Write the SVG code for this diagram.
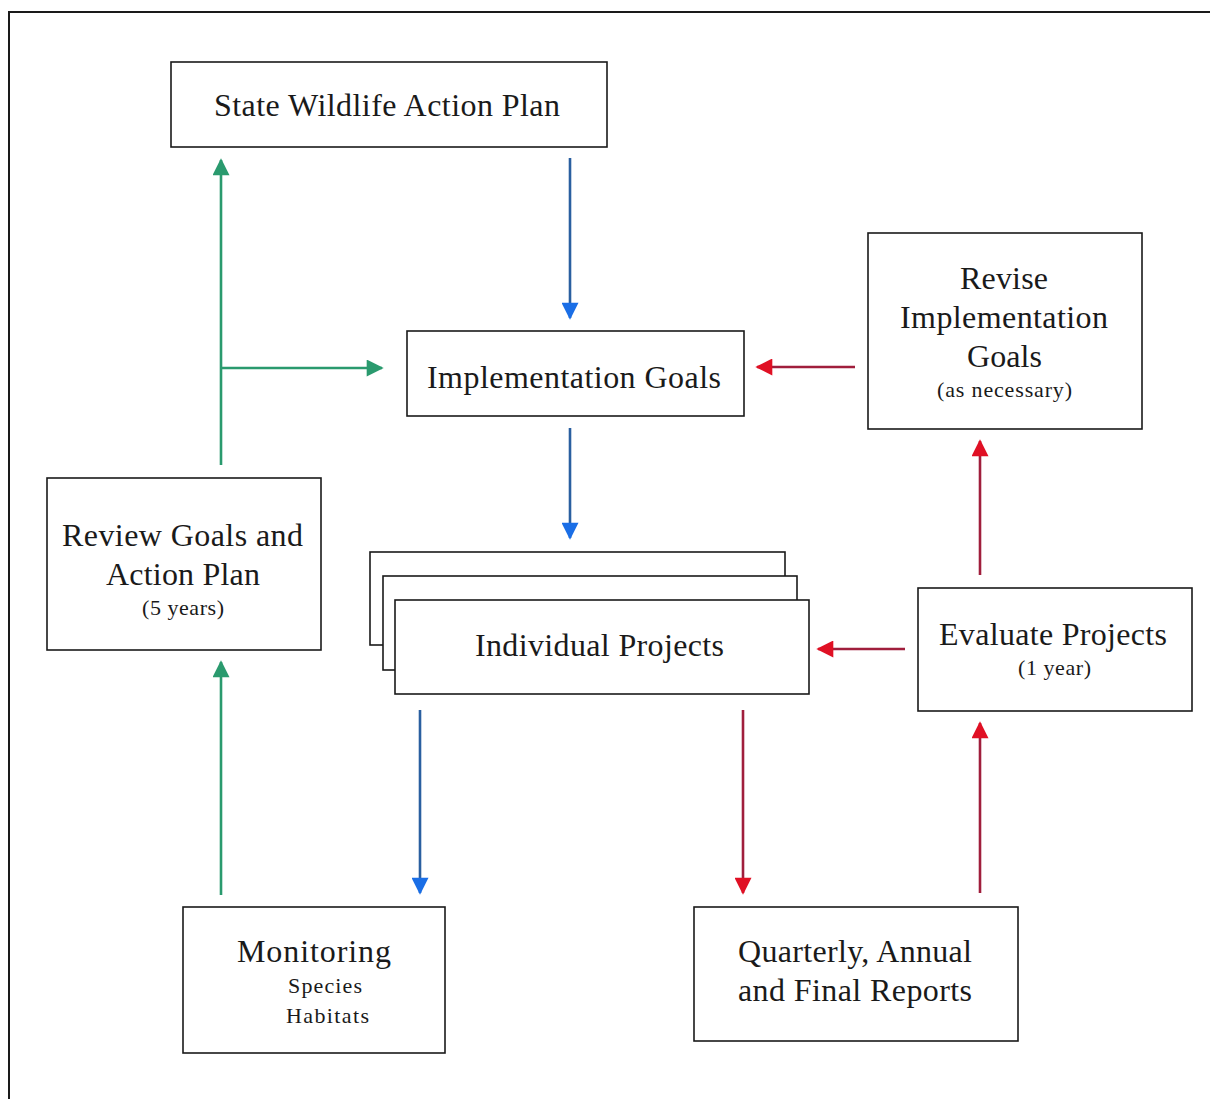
<svg xmlns="http://www.w3.org/2000/svg" width="1210" height="1099" viewBox="0 0 1210 1099">
<style>
.box{fill:#ffffff;stroke:#1a1a1a;stroke-width:1.6}
.t{font-family:"Liberation Serif","Times New Roman",serif;font-size:32px;fill:#1a1a1a;text-anchor:middle}
.s{font-family:"Liberation Serif","Times New Roman",serif;font-size:22px;fill:#1a1a1a;text-anchor:middle}
.blue{stroke:#2a5fa0;stroke-width:2.6;fill:none}
.red{stroke:#a01e3c;stroke-width:2.6;fill:none}
.green{stroke:#2a9a6e;stroke-width:2.6;fill:none}
</style>
<defs>
<marker id="hb" viewBox="0 0 10 10" refX="9" refY="5" markerUnits="userSpaceOnUse" markerWidth="18" markerHeight="17" orient="auto"><path d="M0,0 L10,5 L0,10 z" fill="#1a6ee6"/></marker>
<marker id="hr" viewBox="0 0 10 10" refX="9" refY="5" markerUnits="userSpaceOnUse" markerWidth="18" markerHeight="17" orient="auto"><path d="M0,0 L10,5 L0,10 z" fill="#e01024"/></marker>
<marker id="hg" viewBox="0 0 10 10" refX="9" refY="5" markerUnits="userSpaceOnUse" markerWidth="18" markerHeight="17" orient="auto"><path d="M0,0 L10,5 L0,10 z" fill="#2a9a6e"/></marker>
</defs>
<rect width="1210" height="1099" fill="#ffffff"/>
<path d="M9,1099 L9,12 L1210,12" fill="none" stroke="#1a1a1a" stroke-width="2"/>

<g id="connectors">
<line class="blue" x1="570" y1="158" x2="570" y2="318" marker-end="url(#hb)"/>
<line class="blue" x1="570" y1="428" x2="570" y2="538" marker-end="url(#hb)"/>
<line class="blue" x1="420" y1="710" x2="420" y2="893" marker-end="url(#hb)"/>
<line class="red" x1="743" y1="710" x2="743" y2="893" marker-end="url(#hr)"/>
<line class="red" x1="980" y1="893" x2="980" y2="723" marker-end="url(#hr)"/>
<line class="red" x1="980" y1="575" x2="980" y2="441" marker-end="url(#hr)"/>
<line class="red" x1="855" y1="367" x2="757" y2="367" marker-end="url(#hr)"/>
<line class="red" x1="905" y1="649" x2="818" y2="649" marker-end="url(#hr)"/>
<line class="green" x1="221" y1="895" x2="221" y2="662" marker-end="url(#hg)"/>
<line class="green" x1="221" y1="465" x2="221" y2="160" marker-end="url(#hg)"/>
<line class="green" x1="221" y1="368" x2="382" y2="368" marker-end="url(#hg)"/>
</g>

<g id="swap">
<rect class="box" x="171" y="62" width="436" height="85"/>
<text class="t" x="387" y="116" textLength="346" lengthAdjust="spacing">State Wildlife Action Plan</text>
</g>

<g id="impl-goals">
<rect class="box" x="407" y="331" width="337" height="85"/>
<text class="t" x="574" y="388" textLength="294" lengthAdjust="spacing">Implementation Goals</text>
</g>

<g id="revise">
<rect class="box" x="868" y="233" width="274" height="196"/>
<text class="t" x="1004" y="289" textLength="88" lengthAdjust="spacing">Revise</text>
<text class="t" x="1004" y="328" textLength="208" lengthAdjust="spacing">Implementation</text>
<text class="t" x="1004.5" y="367" textLength="75" lengthAdjust="spacing">Goals</text>
<text class="s" x="1004.5" y="397" textLength="135" lengthAdjust="spacing">(as necessary)</text>
</g>

<g id="review">
<rect class="box" x="47" y="478" width="274" height="172"/>
<text class="t" x="182.5" y="546" textLength="241" lengthAdjust="spacing">Review Goals and</text>
<text class="t" x="183" y="585" textLength="154" lengthAdjust="spacing">Action Plan</text>
<text class="s" x="183" y="615" textLength="82" lengthAdjust="spacing">(5 years)</text>
</g>

<g id="projects">
<rect class="box" x="370" y="552" width="415" height="93"/>
<rect class="box" x="383" y="576" width="414" height="94"/>
<rect class="box" x="395" y="600" width="414" height="94"/>
<text class="t" x="599.5" y="656" textLength="249" lengthAdjust="spacing">Individual Projects</text>
</g>

<g id="evaluate">
<rect class="box" x="918" y="588" width="274" height="123"/>
<text class="t" x="1053" y="645" textLength="228" lengthAdjust="spacing">Evaluate Projects</text>
<text class="s" x="1054.5" y="675" textLength="73" lengthAdjust="spacing">(1 year)</text>
</g>

<g id="monitoring">
<rect class="box" x="183" y="907" width="262" height="146"/>
<text class="t" x="314" y="962" textLength="154" lengthAdjust="spacing">Monitoring</text>
<text class="s" x="325" y="993" textLength="74" lengthAdjust="spacing">Species</text>
<text class="s" x="327.5" y="1023" textLength="83" lengthAdjust="spacing">Habitats</text>
</g>

<g id="reports">
<rect class="box" x="694" y="907" width="324" height="134"/>
<text class="t" x="855" y="962" textLength="234" lengthAdjust="spacing">Quarterly, Annual</text>
<text class="t" x="855" y="1001" textLength="234" lengthAdjust="spacing">and Final Reports</text>
</g>
</svg>
